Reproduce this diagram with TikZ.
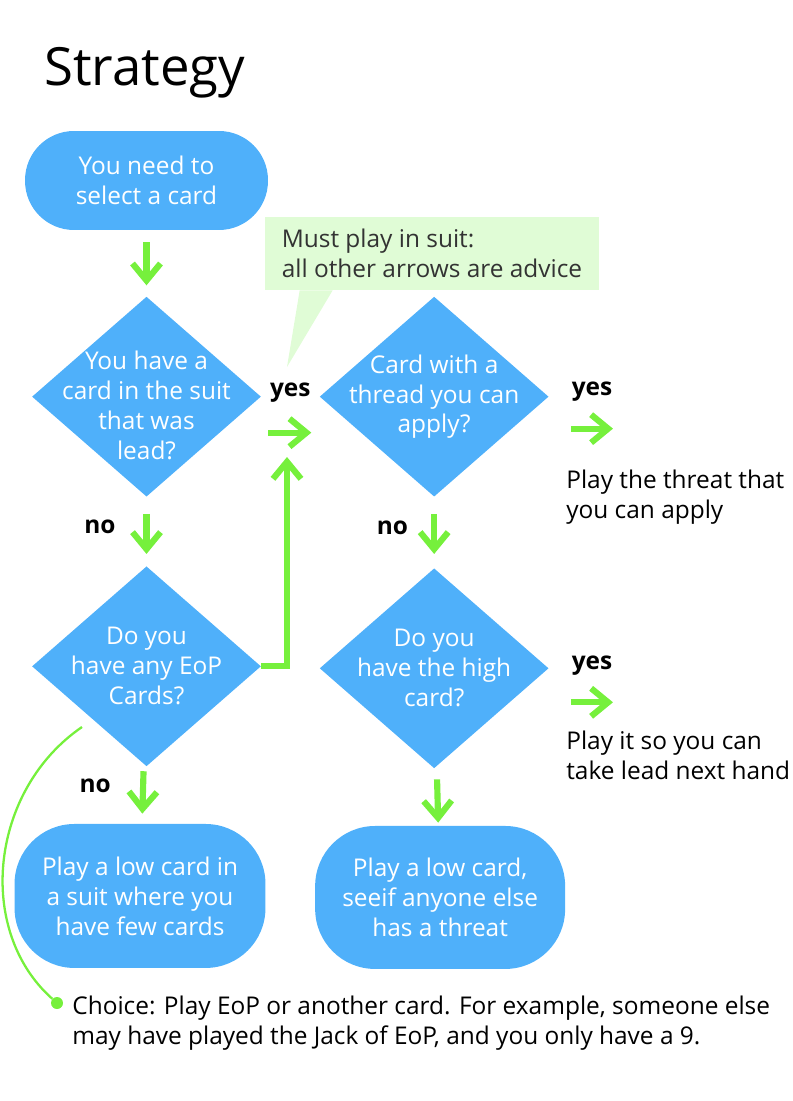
\documentclass[tikz,border=0pt]{standalone}
\usepackage{fontspec}
\setmainfont{Open Sans}
\usetikzlibrary{shapes,arrows.meta,positioning}
\definecolor{cardblue}{RGB}{79,176,250}
\definecolor{arrowgreen}{RGB}{118,240,60}
\definecolor{notegreen}{RGB}{224,252,214}
\definecolor{notetext}{RGB}{51,51,51}

\begin{document}
\begin{tikzpicture}[x=0.02cm, y=-0.02cm,
  every node/.style={font=\fontsize{13.9}{17}\selectfont},
  terminal/.style={rectangle, rounded corners=0.98cm, fill=cardblue, text=white, align=center, inner sep=0pt},
  decision/.style={diamond, fill=cardblue, minimum width=4.58cm, minimum height=4cm, inner sep=0pt},
  dtext/.style={text=white, align=center, inner sep=0pt},
  answer/.style={font=\fontsize{13.9}{17}\selectfont\bfseries, inner sep=0pt},
  advice/.style={align=left, inner sep=0pt, anchor=west},
  flow/.style={draw=arrowgreen, line width=3.5pt, line join=miter, -{Straight Barb[length=0.34cm, width=0.56cm]}},
  callout/.style={rectangle, fill=notegreen, text=notetext, align=left, minimum width=6.68cm, minimum height=1.46cm, inner sep=0pt}]
\useasboundingbox (0,0) rectangle (792,1101);

\node (title) [anchor=base west, inner sep=0pt, font=\fontsize{30}{36}\selectfont] at (44,86) {Strategy};

\node (start) [terminal, minimum width=4.86cm, minimum height=1.98cm] at (146.5,180.5) {You need to\\select a card};
\node (lead) [decision, below=1.32cm of start] {};
\node (leadtext) [dtext, yshift=-0.18cm] at (lead) {You have a\\card in the suit\\that was\\lead?};
\node (eop) [decision, below=1.38cm of lead] {};
\node (eoptext) [dtext] at (eop) {Do you\\have any EoP\\Cards?};
\node (low) [terminal, rounded corners=1.2cm, minimum width=5.02cm, minimum height=2.88cm, below=1.14cm of eop, xshift=-0.13cm] {Play a low card in\\a suit where you\\have few cards};

\node (thread) [decision, right=1.16cm of lead] {};
\node (threadtext) [dtext] at (thread) {Card with a\\thread you can\\apply?};
\node (high) [decision, below=1.42cm of thread] {};
\node (hightext) [dtext] at (high) {Do you\\have the high\\card?};
\node (lowr) [terminal, rounded corners=1.2cm, minimum width=5cm, minimum height=2.86cm, below=1.14cm of high, xshift=0.12cm] {Play a low card,\\seeif anyone else\\has a threat};

\node (note) [callout] at (432,253.5) {Must play in suit:\\all other arrows are advice};
\coordinate (tip) at (287,367);
\fill[notegreen] ([xshift=0.7cm]note.south west) -- ([xshift=1.36cm]note.south west) -- (tip) -- cycle;

\node (threat) [advice] at (566,497) {Play the threat that\\you can apply};
\node (take) [advice] at (566,755.5) {Play it so you can\\take lead next hand};

\draw[flow, shorten <=0.24cm, shorten >=0.22cm] (start) -- (lead);
\draw[flow, shorten <=0.34cm, shorten >=0.24cm] (lead) -- node[answer, left=0.56cm, yshift=0.1cm] {no} (eop);
\draw[flow, shorten <=0.14cm, shorten >=0.2cm] (eop) -- node[answer, left=0.58cm, yshift=0.16cm] {no} (low);
\draw[flow, shorten <=0.14cm, shorten >=0.16cm] ([yshift=-0.72cm]lead.east) -- node[answer, above=0.54cm] {yes} ([yshift=-0.72cm]thread.west);
\coordinate (upto) at (287,457);
\draw[flow] (eop.east) -| (upto);
\draw[flow, shorten <=0.34cm, shorten >=0.28cm] (thread) -- node[answer, left=0.46cm, yshift=0.1cm] {no} (high);
\draw[flow, shorten <=0.26cm, shorten >=0.06cm] (high) -- (lowr);
\draw[flow] ([xshift=0.44cm, yshift=-0.64cm]thread.east) -- node[answer, above=0.48cm] {yes} ++(42,0);
\draw[flow] ([xshift=0.44cm, yshift=-0.68cm]high.east) -- node[answer, above=0.48cm] {yes} ++(42,0);

\coordinate (bend) at (82,727);
\node (dot) [circle, fill=arrowgreen, minimum size=0.24cm, inner sep=0pt] at (57,1003) {};
\draw[arrowgreen, line width=1.3pt] (bend) .. controls (-10,790) and (-25,930) .. (dot);
\node (choice) [advice] at (72,1023) {Choice: Play EoP or another card. For example, someone else\\may have played the Jack of EoP, and you only have a 9.};
\end{tikzpicture}
\end{document}
